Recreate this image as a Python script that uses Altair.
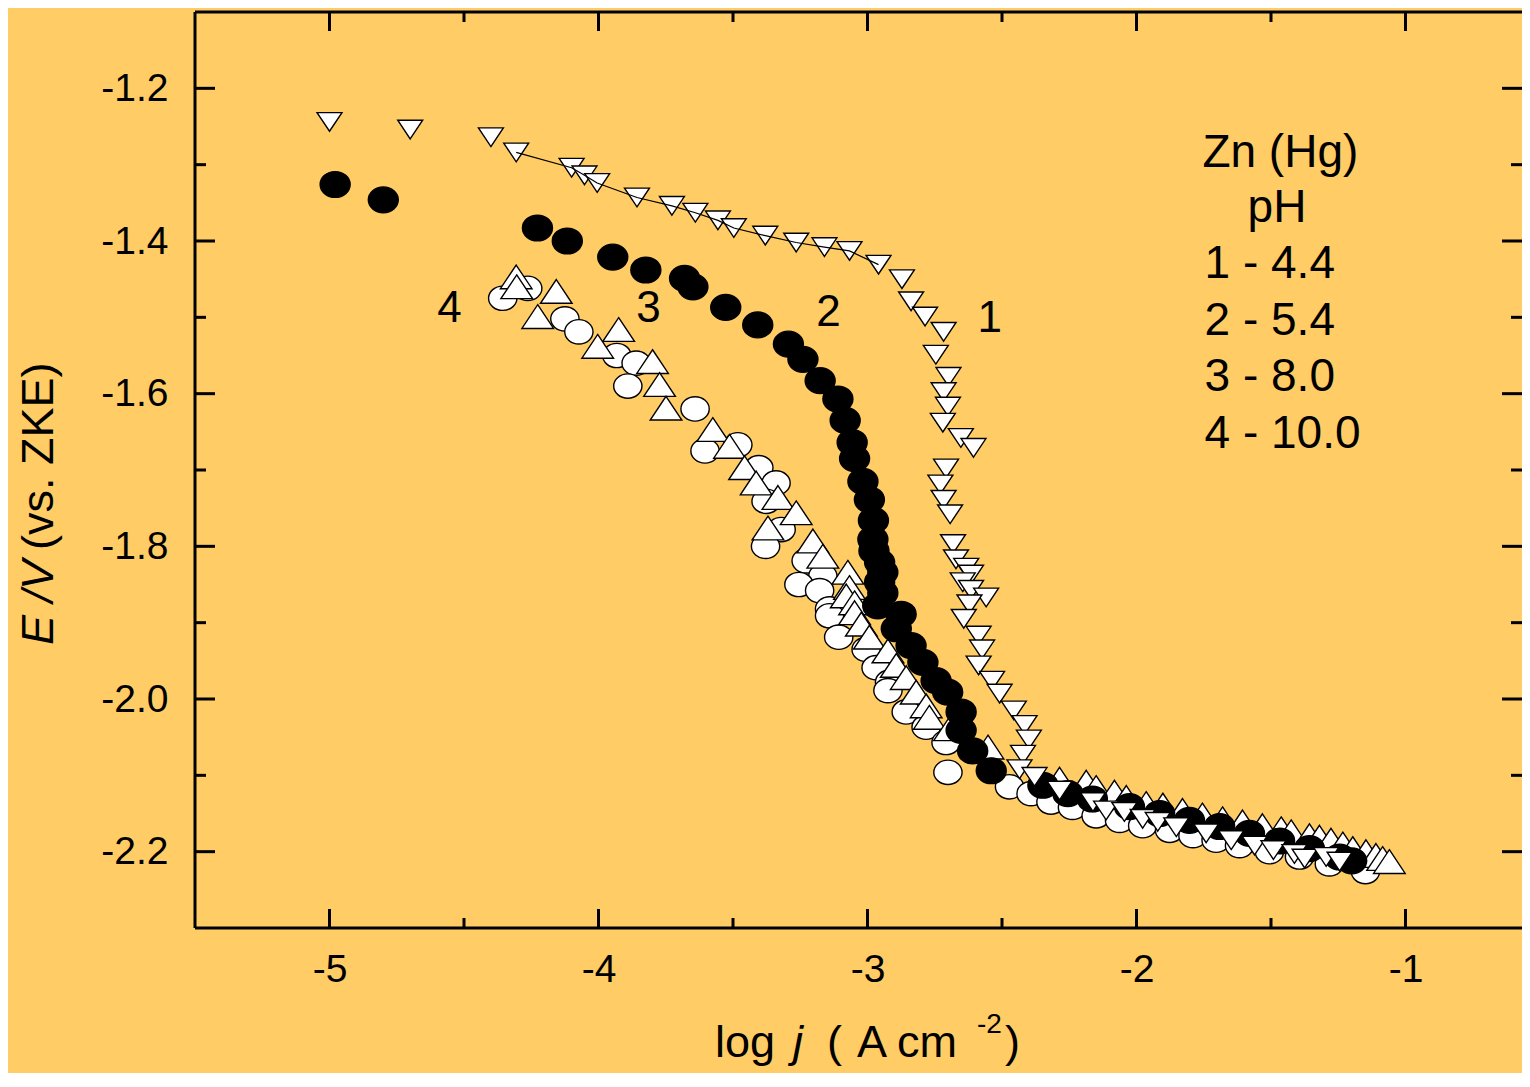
import altair as alt
import pandas as pd

# ---------------- data ----------------
# curve 1, pH 4.4 : open down-triangles
s1_x = [-5.00, -4.70, -4.40, -4.306, -4.10, -4.052, -4.005, -3.857, -3.727, -3.64, -3.556,
        -3.497, -3.38, -3.265, -3.16, -3.067, -2.959, -2.872, -2.838, -2.786, -2.717, -2.746,
        -2.699, -2.717, -2.701, -2.72, -2.653, -2.606, -2.708, -2.729, -2.717, -2.693, -2.682,
        -2.671, -2.633, -2.615, -2.646, -2.615, -2.559, -2.621, -2.642, -2.587, -2.574, -2.587,
        -2.537, -2.509, -2.456, -2.416, -2.40, -2.422, -2.435, -2.379, -2.286, -2.162, -2.113,
        -2.045, -1.977, -1.921, -1.852, -1.741, -1.648, -1.561, -1.491, -1.413, -1.375, -1.295,
        -1.245]
s1_y = [-1.244, -1.254, -1.264, -1.284, -1.304, -1.314, -1.324, -1.343, -1.354, -1.363, -1.373,
        -1.383, -1.393, -1.402, -1.408, -1.413, -1.431, -1.450, -1.479, -1.499, -1.519, -1.549,
        -1.578, -1.598, -1.617, -1.638, -1.658, -1.671, -1.698, -1.719, -1.739, -1.758, -1.797,
        -1.817, -1.828, -1.837, -1.847, -1.857, -1.867, -1.876, -1.895, -1.917, -1.935, -1.956,
        -1.976, -1.993, -2.015, -2.034, -2.053, -2.073, -2.092, -2.102, -2.120, -2.135, -2.146,
        -2.148, -2.157, -2.161, -2.168, -2.176, -2.185, -2.192, -2.198, -2.203, -2.209, -2.207,
        -2.213]

# curve 2, pH 5.4 : filled circles
s2_x = [-4.979, -4.80, -4.227, -4.116, -3.947, -3.824, -3.68, -3.649, -3.527, -3.408, -3.294,
        -3.24, -3.176, -3.11, -3.083, -3.057, -3.048, -3.017, -2.993, -2.978, -2.98, -2.976,
        -2.955, -2.943, -2.955, -2.943, -2.962, -2.875, -2.893, -2.838, -2.794, -2.745, -2.702,
        -2.652, -2.652, -2.609, -2.54, -2.348, -2.255, -2.164, -2.026, -1.914, -1.803, -1.691,
        -1.58, -1.468, -1.357, -1.245, -1.20]
s2_y = [-1.326, -1.346, -1.383, -1.400, -1.421, -1.438, -1.449, -1.460, -1.487, -1.510, -1.535,
        -1.555, -1.583, -1.607, -1.635, -1.664, -1.685, -1.715, -1.739, -1.766, -1.791, -1.806,
        -1.821, -1.834, -1.847, -1.861, -1.878, -1.889, -1.908, -1.930, -1.952, -1.976, -1.991,
        -2.017, -2.041, -2.068, -2.094, -2.113, -2.124, -2.131, -2.141, -2.150, -2.159, -2.167,
        -2.176, -2.186, -2.196, -2.207, -2.212]

# curve 3, pH 8.0 : open circles
s3_x = [-4.356, -4.263, -4.125, -4.073, -3.932, -3.86, -3.891, -3.641, -3.604, -3.482, -3.404,
        -3.34, -3.377, -3.321, -3.379, -3.228, -3.166, -3.255, -3.178, -3.141, -3.141, -3.107,
        -3.005, -2.968, -2.918, -2.924, -2.856, -2.782, -2.708, -2.701, -2.472, -2.392, -2.318,
        -2.238, -2.15, -2.063, -1.977, -1.877, -1.79, -1.704, -1.617, -1.506, -1.394, -1.283,
        -1.149]
s3_y = [-1.475, -1.462, -1.502, -1.519, -1.550, -1.560, -1.590, -1.620, -1.675, -1.667, -1.697,
        -1.717, -1.741, -1.778, -1.800, -1.819, -1.839, -1.850, -1.858, -1.882, -1.891, -1.919,
        -1.935, -1.959, -1.978, -1.989, -2.017, -2.037, -2.057, -2.096, -2.115, -2.124, -2.135,
        -2.142, -2.153, -2.159, -2.166, -2.172, -2.179, -2.185, -2.192, -2.200, -2.207, -2.216,
        -2.226]

# curve 4, pH 10.0 : open up-triangles
s4_x = [-4.306, -4.304, -4.157, -4.226, -3.925, -4.003, -3.799, -3.773, -3.749, -3.575, -3.513,
        -3.457, -3.414, -3.333, -3.265, -3.370, -3.203, -3.166, -3.073, -3.067, -3.079, -3.048,
        -3.048, -3.023, -2.993, -2.924, -2.893, -2.856, -2.819, -2.782, -2.770, -2.695, -2.552,
        -2.286, -2.187, -2.15, -2.082, -2.038, -1.964, -1.902, -1.829, -1.755, -1.68, -1.606,
        -1.532, -1.462, -1.425, -1.357, -1.32, -1.277, -1.233, -1.196, -1.147, -1.11, -1.085,
        -1.06]
s4_y = [-1.447, -1.460, -1.466, -1.499, -1.516, -1.538, -1.558, -1.588, -1.619, -1.647, -1.669,
        -1.697, -1.717, -1.736, -1.756, -1.776, -1.793, -1.813, -1.834, -1.854, -1.865, -1.874,
        -1.887, -1.902, -1.919, -1.937, -1.956, -1.972, -1.991, -2.009, -2.024, -2.039, -2.063,
        -2.105, -2.109, -2.116, -2.122, -2.129, -2.137, -2.139, -2.146, -2.152, -2.157, -2.161,
        -2.166, -2.170, -2.174, -2.179, -2.181, -2.185, -2.190, -2.196, -2.200, -2.205, -2.209,
        -2.213]

# thin red fit line in the Tafel region
fit_x = [-2.294, -1.086]
fit_y = [-2.125, -2.206]

# axis ticks
x_major = [-5, -4, -3, -2, -1]
x_minor = [-4.5, -3.5, -2.5, -1.5]
y_major = [-2.2, -2.0, -1.8, -1.6, -1.4, -1.2]
y_minor = [-2.1, -1.9, -1.7, -1.5, -1.3]

# curve labels
curve_lbl = ["4", "3", "2", "1"]
curve_lbl_x = [-4.554, -3.814, -3.145, -2.546]
curve_lbl_y = [-1.506, -1.506, -1.512, -1.519]

# legend text block
leg_txt = ["Zn (Hg)", "pH", "1 - 4.4", "2 - 5.4", "3 - 8.0", "4 - 10.0"]
leg_x = [-1.755, -1.587, -1.747, -1.747, -1.747, -1.747]
leg_y = [-1.303, -1.375, -1.448, -1.523, -1.597, -1.671]

# ---------------- chart ----------------
BG = "#FFCC66"
FONT = "Liberation Sans"
W, H = 1327, 916
XS = alt.Scale(domain=[-5.5, -5.5 + W / 269.0], nice=False, zero=False)
YS = alt.Scale(domain=[-2.3, -1.1], nice=False, zero=False)

neg_fmt_x = "(datum.value < 0 ? '-' : '') + format(abs(datum.value), '.0f')"
neg_fmt_y = "(datum.value < 0 ? '-' : '') + format(abs(datum.value), '.1f')"

AX_X = alt.Axis(values=x_major, ticks=False, tickSize=0, domain=False, grid=False, title=None,
                labelFont=FONT, labelFontSize=39, labelColor="black", labelPadding=22,
                labelExpr=neg_fmt_x, labelFlush=False, labelOverlap=False)
AX_Y = alt.Axis(values=y_major, ticks=False, tickSize=0, domain=False, grid=False, title=None,
                labelFont=FONT, labelFontSize=39, labelColor="black", labelPadding=27,
                labelExpr=neg_fmt_y, labelFlush=False, labelOverlap=False)

ELL = "M-1,0A1,0.86,0,1,0,1,0A1,0.86,0,1,0,-1,0Z"
TRI_UP = "M0,-0.75L1,0.75L-1,0.75Z"
TRI_DN = "M0,0.75L1,-0.75L-1,-0.75Z"

df1 = pd.DataFrame({"x": s1_x, "y": s1_y})
df2 = pd.DataFrame({"x": s2_x, "y": s2_y})
df3 = pd.DataFrame({"x": s3_x, "y": s3_y})
df4 = pd.DataFrame({"x": s4_x, "y": s4_y})


def X(field="x"):
    return alt.X(f"{field}:Q", scale=XS, axis=AX_X)


def Y(field="y"):
    return alt.Y(f"{field}:Q", scale=YS, axis=AX_Y)


def scatter(df, shape, size, fill):
    return alt.Chart(df).mark_point(
        shape=shape, size=size, filled=True, fill=fill, fillOpacity=1,
        stroke="black", strokeWidth=1.4, strokeOpacity=1, opacity=1
    ).encode(x=X(), y=Y())


def rule_x(vals, y0, y1):
    return alt.Chart(pd.DataFrame({"v": vals})).mark_rule(color="black", strokeWidth=3).encode(
        x=X("v"), y=alt.value(y0), y2=alt.value(y1))


def rule_y(vals, x0, x1):
    return alt.Chart(pd.DataFrame({"v": vals})).mark_rule(color="black", strokeWidth=3).encode(
        y=Y("v"), x=alt.value(x0), x2=alt.value(x1))


ticks = [
    rule_x(x_major, H, H - 19), rule_x(x_minor, H, H - 10),
    rule_x(x_major, 0, 19), rule_x(x_minor, 0, 10),
    rule_y(y_major, 0, 20), rule_y(y_minor, 0, 11),
    rule_y(y_major, W, W - 20), rule_y(y_minor, W, W - 11),
]

# frame: left, top, bottom (the right side lies beyond the picture)
frame_df = pd.DataFrame({"k": [0]})
frame = [
    alt.Chart(frame_df).mark_rule(color="black", strokeWidth=3).encode(
        x=alt.value(0), y=alt.value(0), y2=alt.value(H)),
    alt.Chart(frame_df).mark_rule(color="black", strokeWidth=3).encode(
        x=alt.value(0), x2=alt.value(W + 2), y=alt.value(0)),
    alt.Chart(frame_df).mark_rule(color="black", strokeWidth=3).encode(
        x=alt.value(0), x2=alt.value(W + 2), y=alt.value(H)),
]

# lines
fit_line = alt.Chart(pd.DataFrame({"x": fit_x, "y": fit_y})).mark_line(
    color="#FF0000", strokeWidth=1.5).encode(x=X(), y=Y())
flat1 = df1[df1["x"] > -2.2].sort_values("x")
flat_line = alt.Chart(flat1).mark_line(color="black", strokeWidth=1.2).encode(
    x=X(), y=Y(), order="x:Q")
top1 = df1[(df1["x"] > -4.35) & (df1["x"] < -2.95)].sort_values("x")
top_line = alt.Chart(top1).mark_line(color="black", strokeWidth=1.2).encode(
    x=X(), y=Y(), order="x:Q")

p3 = scatter(df3, ELL, 800, "white")
p4 = scatter(df4, TRI_UP, 1000, "white")
p2 = scatter(df2, ELL, 900, "black")
p1 = scatter(df1, TRI_DN, 620, "white")

labels = alt.Chart(pd.DataFrame({"x": curve_lbl_x, "y": curve_lbl_y, "t": curve_lbl})).mark_text(
    font=FONT, fontSize=44, color="black", align="center", baseline="alphabetic"
).encode(x=X(), y=Y(), text="t:N")

legend = alt.Chart(pd.DataFrame({"x": leg_x, "y": leg_y, "t": leg_txt})).mark_text(
    font=FONT, fontSize=46, color="black", align="left", baseline="alphabetic"
).encode(x=X(), y=Y(), text="t:N")


# axis titles (mixed italic / upright pieces)
def ttl(text, px, py, size=45, style="normal", angle=0):
    return alt.Chart(pd.DataFrame({"t": [text]})).mark_text(
        font=FONT, fontSize=size, fontStyle=style, color="black", align="left",
        baseline="alphabetic", angle=angle
    ).encode(x=alt.value(px), y=alt.value(py), text="t:N")


xt_base = 1045
x_title = [
    ttl("log", 520, xt_base),
    ttl("j", 598, xt_base, style="italic"),
    ttl("(", 632, xt_base),
    ttl("A", 662, xt_base),
    ttl("cm", 702, xt_base),
    ttl("-2", 782, xt_base - 24, size=28),
    ttl(")", 810, xt_base),
]
y_title = [
    ttl("E /V", -142, 633, style="italic", angle=270),
    ttl("(vs. ZKE)", -142, 538, angle=270),
]

chart = alt.layer(
    *ticks, fit_line, flat_line, p3, p4, p2, p1, top_line, labels, legend,
    *frame, *x_title, *y_title
).properties(
    width=W, height=H,
    autosize=alt.AutoSizeParams(type="none"),
    padding={"left": 187, "top": 4, "right": 0, "bottom": 145},
    background=BG,
).configure_view(stroke=None)

chart.save("out.html", embed_options={"renderer": "svg", "actions": False})
